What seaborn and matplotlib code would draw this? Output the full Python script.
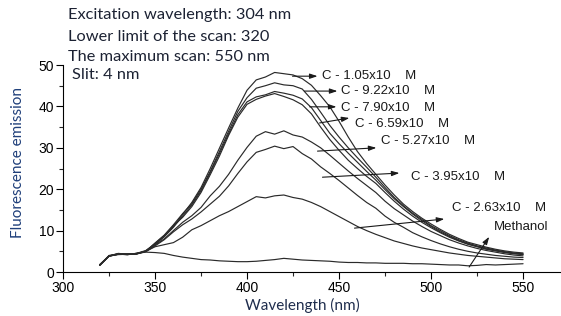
import numpy as np
import pandas as pd
import matplotlib
matplotlib.use('Agg')
import matplotlib.pyplot as plt
import seaborn as sns

# wavelengths (nm), scan 320 -> 550 every 5 nm
wavelength = list(range(320, 555, 5))

# fluorescence intensity
c105 = [1.7, 3.9, 4.4, 4.2, 4.5, 5.2,
        6.8, 8.6, 11.0, 13.9, 16.8, 20.4, 25.0, 29.9, 34.8, 39.6, 43.9, 46.4, 47.1, 48.2,
        47.9, 47.6, 46.7, 45.1, 42.6, 39.9, 36.4, 32.6, 29.1, 26.2, 23.6, 21.0, 18.6, 16.4,
        14.6, 13.0, 11.6, 10.3, 9.1, 8.1, 7.2, 6.6, 6.0, 5.5, 5.1, 4.8, 4.6]
c922 = [1.6, 3.8, 4.5, 4.3, 4.4, 5.0,
        7.0, 8.9, 11.4, 14.1, 16.5, 20.0, 24.3, 29.1, 34.0, 38.8, 42.1, 44.4, 45.0, 45.7,
        45.2, 45.0, 44.2, 41.7, 38.6, 35.4, 32.6, 30.0, 27.6, 25.3, 22.9, 20.4, 18.0, 16.0,
        14.2, 12.7, 11.2, 10.0, 8.8, 7.8, 7.0, 6.3, 5.8, 5.3, 4.9, 4.6, 4.4]
c790 = [1.8, 3.9, 4.3, 4.4, 4.3, 5.1,
        6.6, 8.5, 10.8, 13.5, 16.2, 19.6, 24.0, 28.6, 33.4, 38.0, 41.1, 42.3, 42.8, 43.6,
        43.2, 42.7, 41.8, 39.7, 36.6, 33.5, 31.0, 28.7, 26.5, 24.3, 22.2, 19.9, 17.7, 15.8,
        14.0, 12.4, 11.0, 9.7, 8.6, 7.6, 6.8, 6.2, 5.6, 5.2, 4.8, 4.5, 4.3]
c659 = [1.7, 4.0, 4.4, 4.3, 4.5, 5.0,
        6.9, 8.8, 11.2, 13.2, 15.8, 19.2, 23.5, 28.0, 33.0, 37.4, 40.5, 41.7, 42.5, 43.1,
        42.4, 41.6, 40.4, 38.2, 35.0, 32.0, 29.4, 27.0, 25.0, 23.1, 21.4, 19.2, 17.1, 15.2,
        13.5, 12.0, 10.7, 9.5, 8.4, 7.5, 6.7, 6.1, 5.5, 5.1, 4.7, 4.4, 4.2]
c527 = [1.6, 3.8, 4.3, 4.2, 4.4, 5.0,
        6.5, 8.0, 10.0, 12.0, 13.6, 15.6, 18.4, 20.7, 23.6, 27.0, 30.1, 32.8, 33.9, 33.3,
        34.1, 33.1, 32.6, 31.4, 30.0, 28.2, 26.3, 24.4, 22.6, 20.9, 19.2, 17.1, 15.3, 13.8,
        12.3, 11.0, 9.8, 8.8, 7.8, 7.0, 6.3, 5.7, 5.2, 4.8, 4.4, 4.1, 3.9]
c395 = [1.7, 3.9, 4.2, 4.3, 4.4, 4.9,
        6.3, 7.8, 9.7, 11.4, 12.8, 14.5, 16.4, 18.3, 20.8, 23.8, 26.6, 28.9, 29.6, 30.4,
        29.8, 30.3, 28.6, 27.3, 25.4, 23.8, 22.1, 20.3, 18.5, 16.8, 15.4, 13.5, 12.0, 10.8,
        9.5, 8.5, 7.6, 6.8, 6.1, 5.5, 5.0, 4.6, 4.3, 4.0, 3.8, 3.6, 3.5]
c263 = [1.8, 3.8, 4.3, 4.2, 4.5, 5.0,
        6.1, 6.6, 7.1, 8.4, 10.2, 11.2, 12.4, 13.6, 14.6, 15.8, 17.0, 18.2, 17.9, 18.4,
        18.6, 18.0, 17.6, 16.8, 15.8, 14.6, 13.4, 12.2, 11.0, 10.0, 9.1, 8.3, 7.5, 6.9,
        6.3, 5.8, 5.4, 5.0, 4.6, 4.3, 4.0, 3.8, 3.6, 3.4, 3.2, 3.1, 3.0]
methanol = [1.7, 3.9, 4.3, 4.3, 4.5, 4.8,
            4.7, 4.5, 4.0, 3.6, 3.3, 3.0, 2.9, 2.7, 2.6, 2.5, 2.5, 2.6, 2.8, 3.0,
            3.3, 3.1, 2.9, 2.8, 2.7, 2.6, 2.4, 2.3, 2.3, 2.2, 2.2, 2.1, 2.1, 2.1,
            2.0, 2.0, 1.9, 1.8, 1.7, 1.7, 1.5, 1.6, 1.8, 1.7, 1.8, 1.9, 2.0]

series = {'1.05': c105, '9.22': c922, '7.90': c790, '6.59': c659,
          '5.27': c527, '3.95': c395, '2.63': c263, 'Methanol': methanol}

df = pd.concat([pd.DataFrame({'wavelength': wavelength, 'intensity': v, 'sample': k})
                for k, v in series.items()], ignore_index=True)

sns.set_style('ticks')
plt.rcParams['font.family'] = ['Liberation Sans Narrow', 'Liberation Sans', 'DejaVu Sans']

fig = plt.figure(figsize=(5.61, 3.16), dpi=100)
ax = fig.add_axes([0.1123, 0.1392, 0.8857, 0.6551])

line_colors = {k: '#2a2a2a' for k in series}
sns.lineplot(data=df, x='wavelength', y='intensity', hue='sample', palette=line_colors,
             legend=False, linewidth=0.85, ax=ax)

ax.set_xlim(300, 570)
ax.set_ylim(0, 50)
ax.set_xticks([300, 350, 400, 450, 500, 550])
ax.set_xticks(np.arange(325, 570, 50), minor=True)
ax.set_yticks([0, 10, 20, 30, 40, 50])
ax.set_yticks([5, 15, 25, 35, 45], minor=True)
ax.tick_params(which='major', direction='out', length=5, width=0.8, labelsize=10,
               colors='black', pad=1.5)
ax.tick_params(which='minor', direction='out', length=3, width=0.8)
for s in ['top', 'right']:
    ax.spines[s].set_visible(False)
for s in ['left', 'bottom']:
    ax.spines[s].set_linewidth(0.8)
    ax.spines[s].set_color('black')

label_font = ['Lato', 'DejaVu Sans']
ax.set_xlabel('Wavelength (nm)', family=label_font, fontsize=11, color='#1f2d4d', va='center')
ax.set_ylabel('Fluorescence emission', family=label_font, fontsize=11, color='#1f3f7a', va='center')
ax.xaxis.set_label_coords(0.481, -0.162)
ax.yaxis.set_label_coords(-0.0905, 0.531)

# scan settings in the upper-left corner
info = ['Excitation wavelength: 304 nm', 'Lower limit of the scan: 320',
        'The maximum scan: 550 nm', 'Slit: 4 nm']
info_y = [15, 37, 57, 75]
info_x = [68, 68, 68, 72]
for t, xp, yp in zip(info, info_x, info_y):
    fig.text(xp / 561, 1 - yp / 316, t, family=label_font, fontsize=11.8,
             color='#1c2233', va='center', ha='left')

# concentration labels with their arrows (tail on curve, head at label)
labels = ['C - 1.05x10    M', 'C - 9.22x10    M', 'C - 7.90x10    M', 'C - 6.59x10    M',
          'C - 5.27x10    M', 'C - 3.95x10    M', 'C - 2.63x10    M', 'Methanol']
text_pos = [(440.5, 47.3), (450.8, 43.7), (451.3, 39.6), (458.4, 35.7),
            (473.0, 31.6), (489.3, 22.9), (511.5, 15.5), (534.3, 10.9)]
arrow_tail = [(424.7, 47.3), (431.2, 43.7), (434.0, 39.9), (439.4, 36.0),
              (438.3, 29.2), (441.0, 22.9), (458.4, 10.6), (520.7, 1.2)]
arrow_head = [(438.3, 47.3), (449.1, 43.7), (448.6, 39.9), (455.6, 37.2),
              (470.3, 30.0), (482.8, 23.9), (507.2, 12.8), (531.6, 8.5)]
for lab, tp, tl, hd in zip(labels, text_pos, arrow_tail, arrow_head):
    ax.annotate('', xy=hd, xytext=tl,
                arrowprops=dict(arrowstyle='-|>,head_length=0.45,head_width=0.15',
                                color='#1a1a1a', lw=0.8, shrinkA=0, shrinkB=0))
    ax.text(tp[0], tp[1], lab, fontsize=9.5, color='#1a1a1a', va='center', ha='left')

fig.savefig('out.png', dpi=100)
